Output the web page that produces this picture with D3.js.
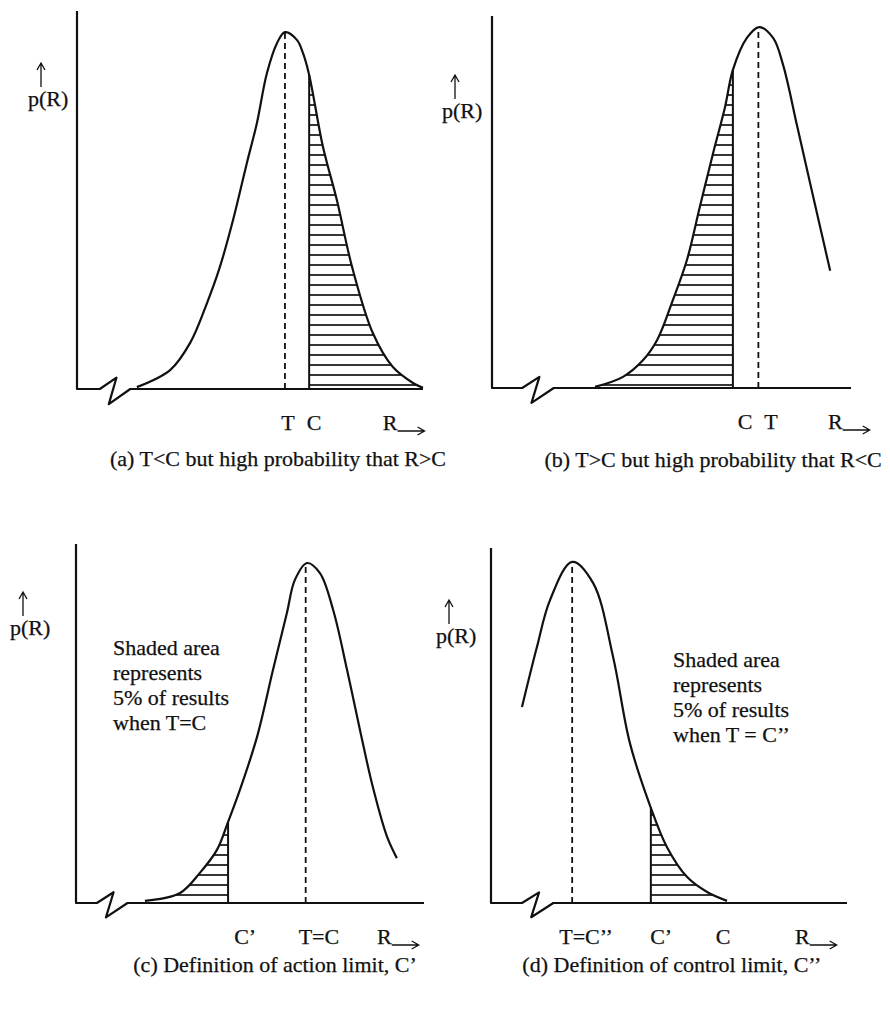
<!DOCTYPE html>
<html>
<head>
<meta charset="utf-8">
<script src="https://cdn.jsdelivr.net/npm/d3@7/dist/d3.min.js"></script>
<style>
  body { margin: 0; background: #fff; }
  text { font-family: "Liberation Serif", "Times New Roman", serif; fill: #111; stroke: #111; stroke-width: 0.25; }
</style>
</head>
<body>
<div class="canvas"></div>
<script>
// curve points, [R, p(R)] in axis units (0..100 each way)
const curveA = [[17.3,0.5],[26.9,5.0],[32.7,12.2],[37.6,22.8],[41.3,32.3],[45.1,44.7],[49.1,59.8],[52.0,70.4],
  [54.9,83.6],[57.8,91.5],[60.1,94.4],[63.6,92.3],[65.3,88.9],[67.1,83.1],[71.1,64.0],[75.1,50.0],[79.5,32.3],
  [85.5,14.8],[91.3,5.8],[97.1,1.6],[100,0.3]];
const curveB = [[28.7,0.3],[36.5,3.0],[42.1,7.5],[46.0,12.9],[50.4,23.7],[54.3,34.4],[57.9,48.7],[61.6,63.2],
  [64.9,75.5],[67.1,85.5],[71.0,94.1],[74.4,97.0],[78.3,94.1],[81.1,86.8],[85.0,70.4],[88.6,55.1],[91.4,43.3],[94.2,31.5]];
const curveC = [[19.8,0.6],[29.9,2.8],[35.6,8.4],[40.5,14.8],[43.7,22.6],[47.1,31.5],[52.0,46.2],[56.6,64.9],
  [60.6,80.8],[62.9,90.0],[66.4,94.7],[70.1,91.9],[73.9,81.6],[77.9,64.9],[81.6,48.2],[85.3,32.3],[89.4,18.4],[92.2,12.5]];
const curveD = [[8.7,55.2],[12.9,72.1],[16.6,85.4],[22.8,96.1],[28.7,90.1],[34.3,69.3],[39.0,45.1],[44.9,26.8],
  [49.4,15.8],[55.1,7.3],[60.7,3.1],[66.3,0.6]];

// dashed target line T and solid limit line bounding the shaded area
const targets = [60.1, 74.2, 66.0, 22.8];
const limits  = [67.1, 67.1, 43.7, 44.9];
const shadeSide = ['right', 'left', 'left', 'right'];

// labels under the R axis and where they sit
const ticksA = ['T', 'C'],            tickAtA = [61.0, 68.5];
const ticksB = ['C', 'T'],            tickAtB = [70.5, 77.7];
const ticksC = ['C\u2019', 'T=C'],    tickAtC = [48.6, 69.8];
const ticksD = ['T=C\u2019\u2019', 'C\u2019', 'C'], tickAtD = [26.7, 47.8, 65.2];
const rLabelAt = [88.4, 93.6, 86.5, 85.4];
const breakAt  = [6.6, 8.4, 6.0, 8.7];

const captions = [
  '(a) T<C but high probability that R>C',
  '(b) T>C but high probability that R<C',
  '(c) Definition of action limit, C\u2019',
  '(d) Definition of control limit, C\u2019\u2019'
];
const captionAt = [58.1, 61.6, 57.2, 50.8];
const noteC = ['Shaded area', 'represents', '5% of results', 'when T=C'];
const noteD = ['Shaded area', 'represents', '5% of results', 'when T = C\u2019\u2019'];

// axis-break zigzag, relative to breakAt
const breakShape = [[0,0],[4.8,3],[2.6,-4],[8.8,0]];

const panels = [
  {curve: curveA, ticks: ticksA, tickAt: tickAtA, box: {x0: 77,  x1: 423, y0: 389, y1: 11},  capY: 466, pr: [28, 106],  note: null},
  {curve: curveB, ticks: ticksB, tickAt: tickAtB, box: {x0: 492, x1: 851, y0: 388, y1: 16},  capY: 467, pr: [442, 118], note: null},
  {curve: curveC, ticks: ticksC, tickAt: tickAtC, box: {x0: 76,  x1: 424, y0: 903, y1: 544}, capY: 972, pr: [10, 635],  note: {lines: noteC, x: 113, y: 655}},
  {curve: curveD, ticks: ticksD, tickAt: tickAtD, box: {x0: 491, x1: 847, y0: 903, y1: 548}, capY: 972, pr: [436, 643], note: {lines: noteD, x: 673, y: 667}}
];

const svg = d3.select('.canvas')
  .append('svg')
  .attr('width', 890)
  .attr('height', 1013);

svg.append('rect').attr('width', 890).attr('height', 1013).attr('fill', '#fff');

const defs = svg.append('defs');
const hatch = defs.append('pattern')
  .attr('id', 'hatch')
  .attr('patternUnits', 'userSpaceOnUse')
  .attr('width', 10)
  .attr('height', 10);
hatch.append('line')
  .attr('x1', 0).attr('x2', 10).attr('y1', 5).attr('y2', 5)
  .attr('stroke', '#111').attr('stroke-width', 1.7);

const fontSize = 22;

panels.forEach((p, i) => {
  const x = d3.scaleLinear().domain([0, 100]).range([p.box.x0, p.box.x1]);
  const y = d3.scaleLinear().domain([0, 100]).range([p.box.y0, p.box.y1]);
  const g = svg.append('g');

  const smooth = d3.curveCatmullRom.alpha(0.5);
  const line = d3.line().x(d => x(d[0])).y(d => y(d[1])).curve(smooth);
  const area = d3.area().x(d => x(d[0])).y0(y(0)).y1(d => y(d[1])).curve(smooth);

  // shading: area under curve, clipped to one side of the limit line
  const lim = limits[i];
  const clipId = 'clip' + i;
  const cx0 = shadeSide[i] === 'right' ? x(lim) : x(0);
  const cx1 = shadeSide[i] === 'right' ? x(100) : x(lim);
  defs.append('clipPath').attr('id', clipId)
    .append('rect')
    .attr('x', cx0).attr('y', y(100))
    .attr('width', cx1 - cx0).attr('height', y(0) - y(100));
  g.append('path')
    .datum(p.curve)
    .attr('d', area)
    .attr('fill', 'url(#hatch)')
    .attr('clip-path', `url(#${clipId})`);

  // limit line up to the curve
  const limPt = p.curve.find(d => Math.abs(d[0] - lim) < 0.01);
  g.append('line')
    .attr('x1', x(lim)).attr('x2', x(lim))
    .attr('y1', y(0)).attr('y2', y(limPt[1]))
    .attr('stroke', '#111').attr('stroke-width', 2);

  // dashed target line up to the peak
  const peak = d3.max(p.curve, d => d[1]);
  g.append('line')
    .attr('x1', x(targets[i])).attr('x2', x(targets[i]))
    .attr('y1', y(0)).attr('y2', y(peak))
    .attr('stroke', '#111').attr('stroke-width', 1.8)
    .attr('stroke-dasharray', '6,4');

  // axes with the broken R axis
  const b = breakAt[i];
  const axisPts = [[0, 100], [0, 0]].concat(breakShape.map(d => [b + d[0], d[1]]), [[100, 0]]);
  g.append('path')
    .datum(axisPts)
    .attr('d', d3.line().x(d => x(d[0])).y(d => y(d[1])))
    .attr('fill', 'none')
    .attr('stroke', '#111').attr('stroke-width', 2.2)
    .attr('stroke-linejoin', 'round');

  // distribution curve
  g.append('path')
    .datum(p.curve)
    .attr('d', line)
    .attr('fill', 'none')
    .attr('stroke', '#111').attr('stroke-width', 2.2);

  // labels under the axis
  const labY = y(0) + 41;
  g.selectAll('.tick')
    .data(p.ticks)
    .enter().append('text')
    .attr('x', (d, j) => x(p.tickAt[j]))
    .attr('y', labY)
    .attr('text-anchor', 'middle')
    .attr('font-size', fontSize)
    .text(d => d);

  // R with arrow
  const rt = g.append('text')
    .attr('x', x(rLabelAt[i])).attr('y', labY)
    .attr('font-size', fontSize)
    .text('R');
  const rEnd = x(rLabelAt[i]) + rt.node().getComputedTextLength();
  const ay = labY + 1;
  g.append('path')
    .attr('d', `M${rEnd},${ay}H${rEnd + 27}M${rEnd + 20},${ay - 4}L${rEnd + 27},${ay}L${rEnd + 20},${ay + 4}`)
    .attr('fill', 'none').attr('stroke', '#111').attr('stroke-width', 1.3);

  // p(R) with up arrow
  g.append('text')
    .attr('x', p.pr[0]).attr('y', p.pr[1])
    .attr('font-size', fontSize)
    .text('p(R)');
  const px = p.pr[0] + 13;
  const top = p.pr[1] - 43;
  g.append('path')
    .attr('d', `M${px},${top + 24}V${top}M${px - 4},${top + 7}L${px},${top}L${px + 4},${top + 7}`)
    .attr('fill', 'none').attr('stroke', '#111').attr('stroke-width', 1.3);

  // caption
  g.append('text')
    .attr('x', x(captionAt[i])).attr('y', p.capY)
    .attr('text-anchor', 'middle')
    .attr('font-size', 22)
    .text(captions[i]);

  // note about shaded area
  if (p.note) {
    g.selectAll('.note')
      .data(p.note.lines)
      .enter().append('text')
      .attr('x', p.note.x)
      .attr('y', (d, j) => p.note.y + j * 25)
      .attr('font-size', fontSize)
      .text(d => d);
  }
});
</script>
</body>
</html>
